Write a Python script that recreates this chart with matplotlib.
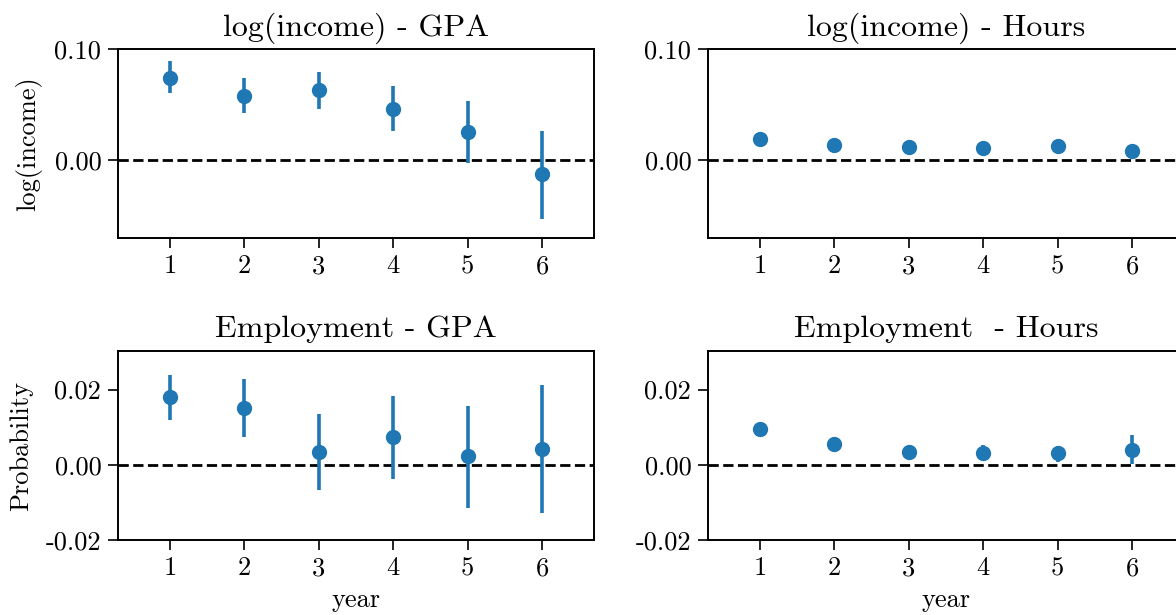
import numpy as np
import matplotlib
matplotlib.use("Agg")
import matplotlib.pyplot as plt

plt.rcParams['font.family'] = 'serif'
plt.rcParams['font.serif'] = ['cmr10', 'DejaVu Serif']
plt.rcParams['mathtext.fontset'] = 'cm'
plt.rcParams['axes.unicode_minus'] = False

years = [1, 2, 3, 4, 5, 6]

# log(income) - GPA
inc_gpa = [0.0745, 0.0583, 0.0631, 0.0465, 0.0258, -0.0126]
inc_gpa_hi = [0.0895, 0.0745, 0.0799, 0.0667, 0.0535, 0.0267]
inc_gpa_lo = [0.0604, 0.0426, 0.0459, 0.0264, -0.0024, -0.0526]

# log(income) - Hours
inc_hrs = [0.0195, 0.0138, 0.0120, 0.0108, 0.0126, 0.0081]
inc_hrs_hi = [0.0210, 0.0152, 0.0133, 0.0122, 0.0141, 0.0098]
inc_hrs_lo = [0.0180, 0.0124, 0.0107, 0.0094, 0.0111, 0.0064]

# Employment - GPA
emp_gpa = [0.0179, 0.0152, 0.0033, 0.0074, 0.0022, 0.0043]
emp_gpa_hi = [0.0239, 0.0229, 0.0135, 0.0184, 0.0157, 0.0212]
emp_gpa_lo = [0.0120, 0.0075, -0.0068, -0.0039, -0.0114, -0.0127]

# Employment - Hours
emp_hrs = [0.0095, 0.0054, 0.0035, 0.0032, 0.0030, 0.0040]
emp_hrs_hi = [0.0102, 0.0062, 0.0045, 0.0053, 0.0051, 0.0078]
emp_hrs_lo = [0.0088, 0.0046, 0.0025, 0.0011, 0.0007, 0.0002]

titles = ["log(income) - GPA", "log(income) - Hours",
          "Employment - GPA", "Employment  - Hours"]

blue = '#1f77b4'

fig = plt.figure(figsize=(11.76, 6.15), dpi=100)
w, h = 0.405, 0.307
axes = [fig.add_axes([0.1003, 0.613, w, h]),
        fig.add_axes([0.602, 0.613, w, h]),
        fig.add_axes([0.1003, 0.122, w, h]),
        fig.add_axes([0.602, 0.122, w, h])]

series = [(inc_gpa, inc_gpa_lo, inc_gpa_hi),
          (inc_hrs, inc_hrs_lo, inc_hrs_hi),
          (emp_gpa, emp_gpa_lo, emp_gpa_hi),
          (emp_hrs, emp_hrs_lo, emp_hrs_hi)]

for i, (ax, (v, lo, hi)) in enumerate(zip(axes, series)):
    v = np.array(v)
    err = [v - np.array(lo), np.array(hi) - v]
    ax.errorbar(years, v, yerr=err, fmt='o', color=blue, ms=10,
                elinewidth=2.6, capsize=0, zorder=3)
    ax.axhline(0, color='black', ls='--', lw=2, zorder=2)
    ax.set_xlim(0.3, 6.7)
    ax.set_xticks(years)
    ax.set_xticklabels([str(y) for y in years])
    if i < 2:
        ax.set_ylim(-0.07, 0.1)
        ax.set_yticks([0.0, 0.1])
        ax.set_yticklabels(["0.00", "0.10"])
    else:
        ax.set_ylim(-0.02, 0.0302)
        ax.set_yticks([-0.02, 0.0, 0.02])
        ax.set_yticklabels(["-0.02", "0.00", "0.02"])
    ax.set_title(titles[i], fontsize=23, pad=10)
    ax.tick_params(labelsize=19, length=7, width=1.2, pad=5)
    for s in ax.spines.values():
        s.set_linewidth(1.4)
    if i >= 2:
        ax.set_xlabel("year", fontsize=19, labelpad=6)

axes[0].set_ylabel("log(income)", fontsize=19, labelpad=9)
axes[2].set_ylabel("Probability", fontsize=19, labelpad=9)

fig.savefig("out.png", dpi=100)
